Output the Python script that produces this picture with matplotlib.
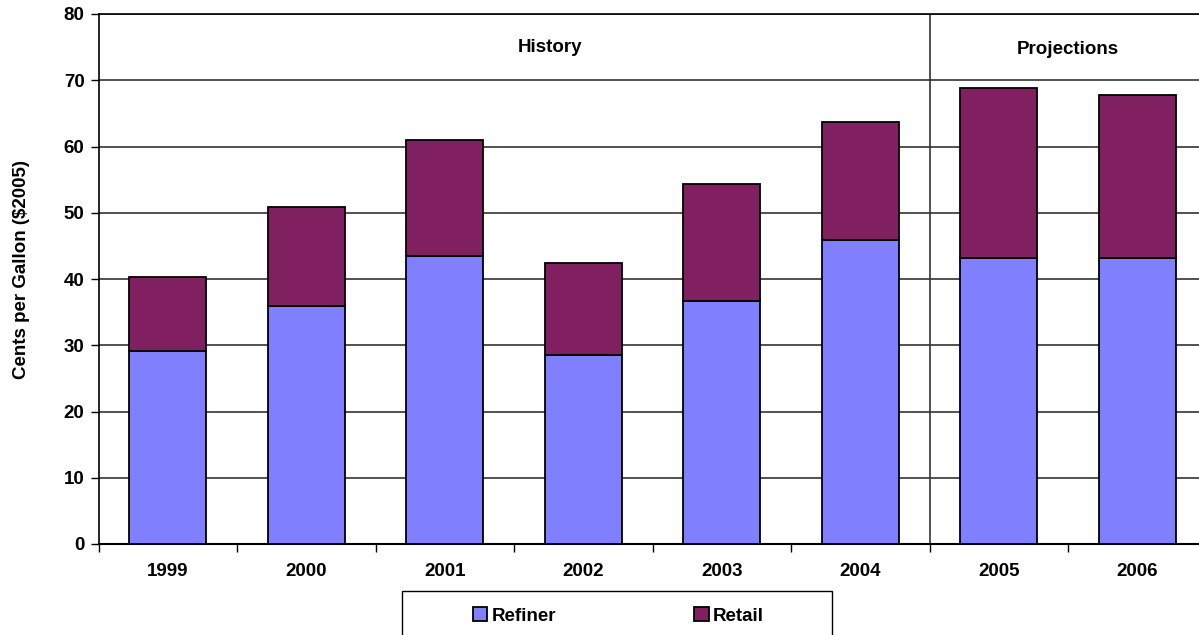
import matplotlib
matplotlib.use("Agg")
import matplotlib.pyplot as plt
from matplotlib.patches import Rectangle
import numpy as np

plt.rcParams["font.family"] = ["Liberation Sans", "DejaVu Sans"]
plt.rcParams["font.weight"] = "bold"

# data (cents per gallon, $2005)
years = ["1999", "2000", "2001", "2002", "2003", "2004", "2005", "2006"]
refiner = [29.2, 36.0, 43.5, 28.6, 36.7, 45.9, 43.2, 43.2]
retail = [11.1, 14.8, 17.5, 13.8, 17.6, 17.8, 25.6, 24.6]
yticks = [0, 10, 20, 30, 40, 50, 60, 70, 80]

REFINER = "#8080ff"
RETAIL = "#802060"
FS = 13.5

W, H = 1199, 635
fig = plt.figure(figsize=(W / 100, H / 100), dpi=100)
ax = fig.add_axes([98.5 / W, 1 - 544 / H, (1206.5 - 98.5) / W, 530 / H])

x = np.arange(len(years))
ax.bar(x, refiner, width=0.556, color=REFINER, edgecolor="black", linewidth=1.3,
       label="Refiner", zorder=3)
ax.bar(x, retail, width=0.556, bottom=refiner, color=RETAIL, edgecolor="black",
       linewidth=1.3, label="Retail", zorder=3)

ax.set_xlim(-0.5, len(years) - 0.5)
ax.set_ylim(0, 80)
ax.set_yticks(yticks)
ax.set_xticks(x)
ax.set_xticklabels(years)
ax.set_xticks(np.arange(-0.5, len(years)), minor=True)
ax.tick_params(axis="x", which="major", length=0, pad=14, labelsize=FS)
ax.tick_params(axis="x", which="minor", length=6, width=1, direction="out")
ax.tick_params(axis="y", length=6, width=1, direction="out", labelsize=FS, pad=4)

ax.yaxis.grid(True, color="#333333", linewidth=1.2, zorder=0)
ax.set_axisbelow(True)
ax.spines["right"].set_visible(False)
ax.spines["top"].set_linewidth(1.2)
ax.spines["left"].set_linewidth(1.2)
ax.spines["bottom"].set_linewidth(1.5)

# history / projections divider
ax.axvline(5.5, color="#333333", linewidth=1.2, zorder=2)
ax.text(2.76, 75, "History", ha="center", va="center", fontsize=FS, fontweight="bold")
ax.text(6.5, 74.7, "Projections", ha="center", va="center", fontsize=FS, fontweight="bold")

ax.set_ylabel("Cents per Gallon ($2005)", fontsize=13.5, fontweight="bold")
ax.yaxis.set_label_coords(-68 / 1108, 0.517)

# legend box runs past the bottom edge of the picture
fig.patches.append(Rectangle((402 / W, -0.05), 430 / W, 0.05 + (635 - 591) / H,
                             transform=fig.transFigure, facecolor="white",
                             edgecolor="black", linewidth=1.0))
leg = fig.legend(loc="center left", ncol=2, bbox_to_anchor=(473 / W, 1 - 616 / H),
                 frameon=False, fontsize=FS, handlelength=0.75, handleheight=0.75,
                 handletextpad=0.25, columnspacing=7.37, borderpad=0, borderaxespad=0)

fig.savefig("out.png", dpi=100)
